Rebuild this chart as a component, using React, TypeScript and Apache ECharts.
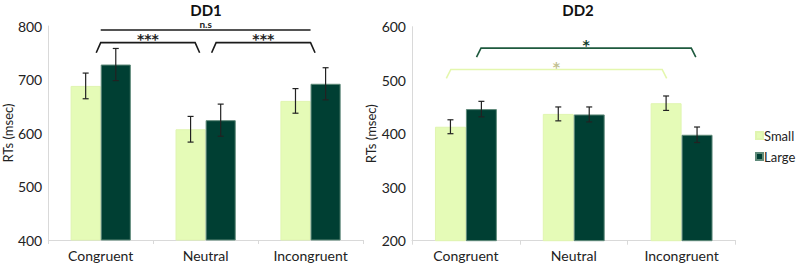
import React, { useEffect, useRef } from "react";
import * as echarts from "echarts";

const categories = ["Congruent", "Neutral", "Incongruent"];
const seriesNames = ["Small", "Large"];

const dd1Small = [688, 607, 660];
const dd1Large = [728, 624, 692];
const dd1SmallErr = [24, 24, 23];
const dd1LargeErr = [30, 30, 30];

const dd2Small = [413, 437, 457];
const dd2Large = [446, 436, 398];
const dd2SmallErr = [13, 13, 13.5];
const dd2LargeErr = [14.5, 14, 14.5];

const dd1Ticks = { min: 400, max: 800, interval: 100 };
const dd2Ticks = { min: 200, max: 600, interval: 100 };

// significance brackets: from/to in category units, level & drop in axis values
const dd1Brackets = [
  { from: 0, to: 2, level: 792.5, drop: 792.5, label: "n.s" },
  { from: 0, to: 0.9, level: 769, drop: 750, label: "***" },
  { from: 1.1, to: 2, level: 769, drop: 750, label: "***" },
];
const dd2Brackets = [
  { from: 0.14, to: 2.09, level: 560, drop: 543, label: "*" },
  { from: -0.14, to: 1.82, level: 520, drop: 503.5, label: "*" },
];

const LIGHT = "#e5fbb7";
const DARK = "#003f33";
const FONT = "Lato, 'Open Sans', sans-serif";
const STAR_FONT = "'DejaVu Sans', sans-serif";
const BAR_FRAC = 0.287;

export default function App() {
  const ref = useRef<HTMLDivElement>(null);
  useEffect(() => {
    if (!ref.current) return;
    const chart = echarts.init(ref.current, null, { renderer: "svg" });

    const errSeries = (gi: number, vals: number[], errs: number[], side: number) => ({
      type: "custom",
      xAxisIndex: gi,
      yAxisIndex: gi,
      clip: false,
      silent: true,
      z: 5,
      data: vals.map((v, i) => [i, v, errs[i]]),
      renderItem: (params: any, api: any) => {
        const idx = api.value(0);
        const v = api.value(1);
        const e = api.value(2);
        const w = api.size([1, 0])[0];
        const c = api.coord([idx, v]);
        const x = c[0] + (side * w * BAR_FRAC) / 2;
        const yt = api.coord([idx, v + e])[1];
        const yb = api.coord([idx, v - e])[1];
        const cap = 3;
        const style = { stroke: "#222", lineWidth: 1.2 };
        return {
          type: "group",
          children: [
            { type: "line", shape: { x1: x, y1: yt, x2: x, y2: yb }, style },
            { type: "line", shape: { x1: x - cap, y1: yt, x2: x + cap, y2: yt }, style },
            { type: "line", shape: { x1: x - cap, y1: yb, x2: x + cap, y2: yb }, style },
          ],
        };
      },
    });

    const bracketSeries = (
      gi: number,
      brackets: any[],
      strokes: string[],
      labelColors: string[],
      labelFonts: string[],
      labelDy: number[]
    ) => ({
      type: "custom",
      xAxisIndex: gi,
      yAxisIndex: gi,
      clip: false,
      silent: true,
      z: 6,
      data: brackets.map((b) => [0, b.level]),
      renderItem: (params: any, api: any) => {
        const b = brackets[params.dataIndex];
        const w = api.size([1, 0])[0];
        const x0 = api.coord([0, b.level])[0];
        const xa = x0 + b.from * w;
        const xb = x0 + b.to * w;
        const yTop = api.coord([0, b.level])[1];
        const yDrop = api.coord([0, b.drop])[1];
        const slant = b.level === b.drop ? 0 : 4.5;
        const stroke = strokes[params.dataIndex];
        return {
          type: "group",
          children: [
            {
              type: "polyline",
              shape: {
                points: [
                  [xa - slant, yDrop],
                  [xa, yTop],
                  [xb, yTop],
                  [xb + slant, yDrop],
                ],
              },
              style: { stroke, lineWidth: 1.6, fill: "none" },
            },
            {
              type: "text",
              style: {
                text: b.label,
                x: (xa + xb) / 2,
                y: yTop + labelDy[params.dataIndex],
                align: "center",
                verticalAlign: "middle",
                fill: labelColors[params.dataIndex],
                font: labelFonts[params.dataIndex],
              },
            },
          ],
        };
      },
    });

    const yAxisCommon = {
      type: "value",
      splitLine: { show: false },
      axisLine: { show: true, lineStyle: { color: "#d9d9d9" } },
      axisTick: { show: false },
      axisLabel: { color: "#222", fontSize: 14, fontFamily: FONT, margin: 6 },
      name: "RTs (msec)",
      nameLocation: "middle",
      nameRotate: 90,
      nameTextStyle: { color: "#222", fontSize: 13, fontFamily: FONT },
    };
    const xAxisCommon = {
      type: "category",
      data: categories,
      axisLine: { show: true, lineStyle: { color: "#d9d9d9" } },
      axisTick: { show: true, length: 4, lineStyle: { color: "#d9d9d9" } },
      axisLabel: { color: "#222", fontSize: 14, fontFamily: FONT, margin: 8 },
    };

    const barSeries = (gi: number, name: string, data: number[], color: string, border: string) => ({
      type: "bar",
      name,
      xAxisIndex: gi,
      yAxisIndex: gi,
      data,
      barWidth: BAR_FRAC * 100 + "%",
      barGap: "0%",
      itemStyle: { color, borderColor: border, borderWidth: 1 },
    });

    chart.setOption({
      animation: false,
      backgroundColor: "#ffffff",
      title: [
        {
          text: "DD1",
          left: 201,
          top: -3,
          textAlign: "center",
          textStyle: { fontSize: 15, fontWeight: "bold", color: "#111", fontFamily: FONT },
        },
        {
          text: "DD2",
          left: 573,
          top: -3,
          textAlign: "center",
          textStyle: { fontSize: 15, fontWeight: "bold", color: "#111", fontFamily: FONT },
        },
      ],
      legend: {
        data: seriesNames,
        orient: "vertical",
        left: 750,
        top: 124,
        itemWidth: 7,
        itemHeight: 7,
        itemGap: 8,
        icon: "rect",
        textStyle: { fontSize: 13, color: "#222", fontFamily: FONT, padding: [0, 0, 0, -4] },
      },
      grid: [
        { left: 40, top: 26, width: 323, height: 214 },
        { left: 412, top: 26.7, width: 323.5, height: 214 },
      ],
      xAxis: [
        { ...xAxisCommon, gridIndex: 0 },
        { ...xAxisCommon, gridIndex: 1 },
      ],
      yAxis: [
        { ...yAxisCommon, gridIndex: 0, ...dd1Ticks, nameGap: 33 },
        { ...yAxisCommon, gridIndex: 1, ...dd2Ticks, nameGap: 24 },
      ],
      series: [
        barSeries(0, seriesNames[0], dd1Small, LIGHT, "#e0f5b0"),
        barSeries(0, seriesNames[1], dd1Large, DARK, "#5f8a7a"),
        barSeries(1, seriesNames[0], dd2Small, LIGHT, "#e0f5b0"),
        barSeries(1, seriesNames[1], dd2Large, DARK, "#5f8a7a"),
        errSeries(0, dd1Small, dd1SmallErr, -1),
        errSeries(0, dd1Large, dd1LargeErr, 1),
        errSeries(1, dd2Small, dd2SmallErr, -1),
        errSeries(1, dd2Large, dd2LargeErr, 1),
        bracketSeries(
          0,
          dd1Brackets,
          ["#1a1a1a", "#1a1a1a", "#1a1a1a"],
          ["#222", "#222", "#222"],
          ["bold 10px " + FONT, "bold 14px " + STAR_FONT, "bold 14px " + STAR_FONT],
          [-6, -3.5, -3.5]
        ),
        bracketSeries(
          1,
          dd2Brackets,
          ["#1e5a3e", "#e4f7ae"],
          ["#113d2b", "#c2c08e"],
          ["bold 14px " + STAR_FONT, "bold 14px " + STAR_FONT],
          [-3, -3]
        ),
      ],
    });
    return () => chart.dispose();
  }, []);
  return (
    <div
      ref={ref}
      style={{ position: "fixed", left: 0, top: 0, width: 798, height: 264, background: "#fff" }}
    />
  );
}
